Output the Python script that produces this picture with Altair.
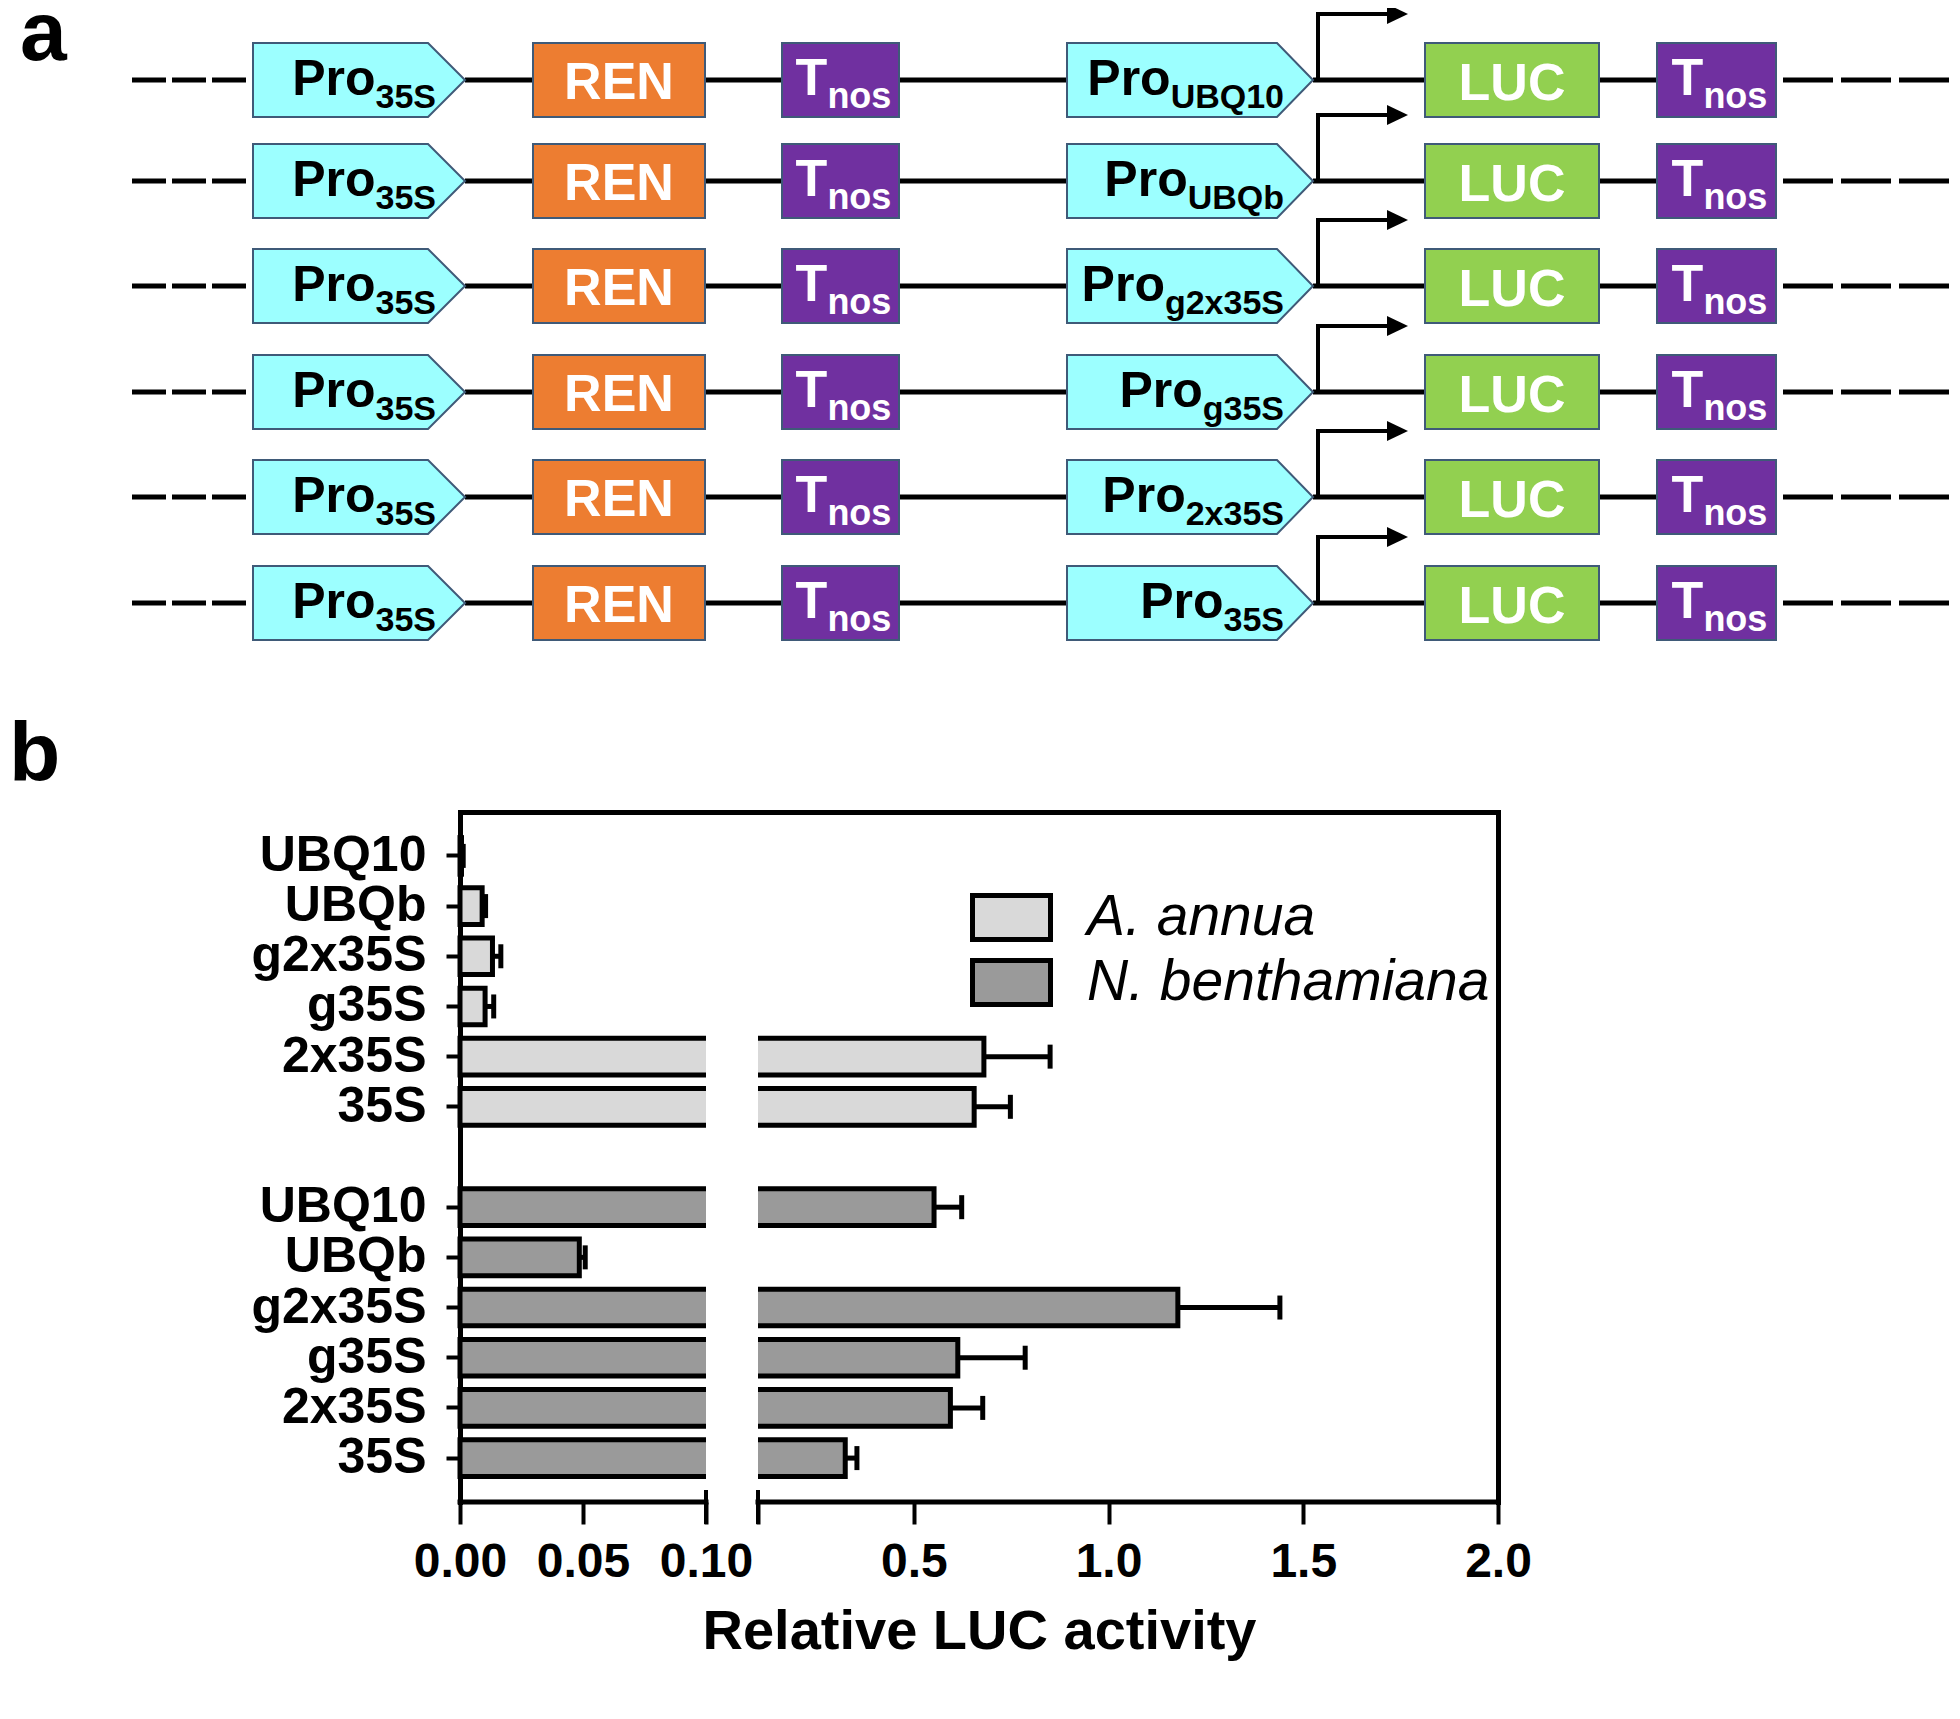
import altair as alt
import pandas as pd

# ---------------- panel b data ----------------
promoters = ["UBQ10", "UBQb", "g2x35S", "g35S", "2x35S", "35S"]
species = ["A. annua", "N. benthamiana"]
annua_mean = [0.0006, 0.0090, 0.0132, 0.0102, 0.680, 0.655]
annua_err = [0.0007, 0.0014, 0.0034, 0.0035, 0.170, 0.093]
benth_mean = [0.552, 0.0485, 1.178, 0.613, 0.594, 0.324]
benth_err = [0.071, 0.0024, 0.262, 0.173, 0.083, 0.030]
axis_break = 0.1
x_max = 2.0
low_ticks = [0.0, 0.05]
high_ticks = [0.5, 1.0, 1.5, 2.0]
x_title = "Relative LUC activity"

# panel a construct labels
construct_parts = ["REN", "LUC"]
terminator = ("T", "nos")

# ---------------- layout / style ----------------
FONT = "Liberation Sans"
W, H = 1038, 690
PAD = {"left": 452, "top": 804, "right": 454, "bottom": 209}
EPS = 1e-7
BREAK_LO = axis_break - EPS
LIGHT, DARK = "#d9d9d9", "#9a9a9a"
CYAN, ORANGE, PURPLE, GREEN = "#9cffff", "#ed7d31", "#7030a0", "#92d050"
EDGE = "#3f5a78"

# panel a: diagram units are the figure's pixels
xa = alt.Scale(domain=[0, 1960], range=[-460, 1500], nice=False, zero=False)
ya = alt.Scale(domain=[0, 1719], range=[-812, 907], nice=False, zero=False)
ROW_Y = [80, 181, 286, 392, 497, 603]
HALF = 37
PRO1 = (253, 428, 465)
PRO2 = (1067, 1277, 1313)
BOXES = [("REN", 533, 705, ORANGE), ("T1", 782, 899, PURPLE),
         ("LUC", 1425, 1599, GREEN), ("T2", 1657, 1776, PURPLE)]
SOLID = [(465, 533), (705, 782), (899, 1067), (1313, 1425), (1599, 1657)]
DASH_L = (132, 253)
DASH_R = (1783, 1956)
ARROW_X, ARROW_RISE, ARROW_END, ARROW_TIP = 1318, 66, 1392, 1408

WID = {'0': .556, '1': .556, '2': .556, '3': .556, '5': .556, 'S': .667, 'U': .722,
       'B': .722, 'Q': .778, 'b': .611, 'g': .611, 'x': .556, 'n': .611, 'o': .611,
       's': .556, 'T': .611, 'P': .667, 'r': .389}


def tw(s, size):
    return sum(WID.get(c, .6) for c in s) * size


def ax_enc(xf="x", yf="y"):
    return dict(x=alt.X(f"{xf}:Q", scale=xa, axis=None), y=alt.Y(f"{yf}:Q", scale=ya, axis=None))


a_layers = []

# backbone lines
solid = pd.DataFrame([dict(x0=a, x1=b, y=y) for y in ROW_Y for a, b in SOLID])
a_layers.append(alt.Chart(solid).mark_rule(color="black", strokeWidth=5).encode(
    x=alt.X("x0:Q", scale=xa, axis=None), x2="x1:Q", y=alt.Y("y:Q", scale=ya, axis=None)))
for (a, b), dash in [(DASH_L, [34, 6]), (DASH_R, [50, 8])]:
    d = pd.DataFrame([dict(x0=a, x1=b, y=y) for y in ROW_Y])
    a_layers.append(alt.Chart(d).mark_rule(color="black", strokeWidth=5, strokeDash=dash).encode(
        x=alt.X("x0:Q", scale=xa, axis=None), x2="x1:Q", y=alt.Y("y:Q", scale=ya, axis=None)))

# transcription-start arrows
vert = pd.DataFrame([dict(x=ARROW_X, y0=y, y1=y - ARROW_RISE) for y in ROW_Y])
a_layers.append(alt.Chart(vert).mark_rule(color="black", strokeWidth=4, strokeCap="square").encode(
    x=alt.X("x:Q", scale=xa, axis=None), y=alt.Y("y0:Q", scale=ya, axis=None), y2="y1:Q"))
hor = pd.DataFrame([dict(x0=ARROW_X, x1=ARROW_END, y=y - ARROW_RISE) for y in ROW_Y])
a_layers.append(alt.Chart(hor).mark_rule(color="black", strokeWidth=4, strokeCap="square").encode(
    x=alt.X("x0:Q", scale=xa, axis=None), x2="x1:Q", y=alt.Y("y:Q", scale=ya, axis=None)))
heads = pd.DataFrame([dict(x=ARROW_TIP - 10.5, y=y - ARROW_RISE) for y in ROW_Y])
a_layers.append(alt.Chart(heads).mark_point(shape="M-1,-0.95L1,0L-1,0.95Z", size=441, filled=True,
                                            color="black", opacity=1).encode(**ax_enc()))

# promoter pentagons
pts = []
for r, y in enumerate(ROW_Y):
    for k, (s, t0, t1) in enumerate([PRO1, PRO2]):
        g = f"{r}-{k}"
        pts += [dict(g=g, x=s, top=y - HALF, bot=y + HALF),
                dict(g=g, x=t0, top=y - HALF, bot=y + HALF),
                dict(g=g, x=t1, top=y, bot=y)]
a_layers.append(alt.Chart(pd.DataFrame(pts)).mark_area(fill=CYAN, stroke=EDGE, strokeWidth=2, opacity=1).encode(
    x=alt.X("x:Q", scale=xa, axis=None), y=alt.Y("top:Q", scale=ya, axis=None), y2="bot:Q", detail="g:N"))

# rectangular parts
for name, x0, x1, col in BOXES:
    d = pd.DataFrame([dict(x0=x0, x1=x1, y0=y - HALF, y1=y + HALF) for y in ROW_Y])
    a_layers.append(alt.Chart(d).mark_rect(fill=col, stroke=EDGE, strokeWidth=2).encode(
        x=alt.X("x0:Q", scale=xa, axis=None), x2="x1:Q", y=alt.Y("y0:Q", scale=ya, axis=None), y2="y1:Q"))


def txt(rows, size, color, align):
    return alt.Chart(pd.DataFrame(rows)).mark_text(
        font=FONT, fontSize=size, fontWeight="bold", color=color, align=align, baseline="alphabetic"
    ).encode(text="t:N", **ax_enc())


pro_main, pro_sub = [], []
for y, p in zip(ROW_Y, promoters):
    for sub, tip in [("35S", PRO1[2]), (p, PRO2[2])]:
        end = tip - 29
        pro_sub.append(dict(x=end, y=y + 28, t=sub))
        pro_main.append(dict(x=end - tw(sub, 34), y=y + 15, t="Pro"))
a_layers.append(txt(pro_main, 50, "black", "right"))
a_layers.append(txt(pro_sub, 34, "black", "right"))

big = []
for y in ROW_Y:
    big.append(dict(x=(533 + 705) / 2, y=y + 19, t=construct_parts[0]))
    big.append(dict(x=(1425 + 1599) / 2, y=y + 20, t=construct_parts[1]))
a_layers.append(txt(big, 52, "white", "center"))

t_main, t_sub = [], []
for y in ROW_Y:
    for x0, x1 in [(782, 899), (1657, 1776)]:
        tot = tw(terminator[0], 52) + tw(terminator[1], 36)
        left = (x0 + x1) / 2 - tot / 2 + 3
        t_main.append(dict(x=left, y=y + 15, t=terminator[0]))
        t_sub.append(dict(x=left + tw(terminator[0], 52), y=y + 28, t=terminator[1]))
a_layers.append(txt(t_main, 52, "white", "left"))
a_layers.append(txt(t_sub, 36, "white", "left"))

# panel letters
a_layers.append(txt([dict(x=20, y=60, t="a"), dict(x=9, y=781, t="b")], 84, "black", "left"))

panelA = alt.layer(*a_layers)

# ---------------- panel b ----------------
rows = []
for sp, means, errs in [(species[0], annua_mean, annua_err), (species[1], benth_mean, benth_err)]:
    for p, m, e in zip(promoters, means, errs):
        rows.append(dict(key=f"{sp}|{p}", species=sp, mean=m, hi=m + e, zero=0.0,
                         gap_lo=BREAK_LO, gap_hi=axis_break))
bdf = pd.DataFrame(rows)
keysA = [f"{species[0]}|{p}" for p in promoters]
keysN = [f"{species[1]}|{p}" for p in promoters]

xs = alt.Scale(domain=[0, axis_break, axis_break, x_max], range=[0, 246, 298, W], nice=False, zero=False)
ys = alt.Scale(domain=keysA + ["gap"] + keysN, paddingInner=0.27, paddingOuter=0.51)

x_vals = low_ticks + [BREAK_LO, axis_break] + high_ticks
bottom_axis = alt.Axis(
    orient="bottom", values=x_vals, domain=False, ticks=True, tickSize=22, tickWidth=4, tickColor="black",
    labelFont=FONT, labelFontSize=48, labelFontWeight="bold", labelColor="black", labelPadding=14,
    labelFlush=False, labelOverlap=False, grid=False,
    labelExpr=f"datum.value == {axis_break} ? '' : (datum.value < {axis_break} ? format(datum.value, '.2f') : format(datum.value, '.1f'))",
    title=x_title, titleFont=FONT, titleFontSize=56, titleFontWeight="bold", titleColor="black", titlePadding=18)
top_axis = alt.Axis(orient="top", domain=True, domainWidth=5, domainColor="black", domainCap="square",
                    ticks=False, labels=False, grid=False, title=None)
left_axis = alt.Axis(orient="left", values=keysA + keysN, domain=True, domainWidth=5, domainColor="black",
                     domainCap="square", ticks=True, tickSize=14, tickWidth=4, tickColor="black",
                     labelFont=FONT, labelFontSize=50, labelFontWeight="bold", labelColor="black",
                     labelPadding=20, labelExpr="split(datum.value, '|')[1]", title=None, grid=False)
right_axis = alt.Axis(orient="right", domain=True, domainWidth=5, domainColor="black", domainCap="square",
                      ticks=False, labels=False, grid=False, title=None)

legend = alt.Legend(orient="none", legendX=519, legendY=73, title=None, padding=0,
                    symbolType="M-1.3,-0.733H1.3V0.733H-1.3Z", symbolSize=3600, symbolStrokeColor="black",
                    symbolStrokeWidth=5, symbolOpacity=1, labelFont=FONT, labelFontSize=57,
                    labelFontStyle="italic", labelFontWeight="normal", labelColor="black",
                    labelOffset=43, rowPadding=0, labelLimit=0)

bars = alt.Chart(bdf).mark_bar(stroke="black", strokeWidth=5, opacity=1).encode(
    x=alt.X("mean:Q", scale=xs, axis=bottom_axis),
    x2="zero:Q",
    y=alt.Y("key:N", scale=ys, axis=left_axis),
    fill=alt.Fill("species:N", scale=alt.Scale(domain=species, range=[LIGHT, DARK]), legend=legend),
)
cover = alt.Chart(bdf).mark_bar(color="white", size=47, opacity=1).encode(
    x=alt.X("gap_lo:Q", scale=xs, axis=top_axis),
    x2="gap_hi:Q",
    y=alt.Y("key:N", scale=ys, axis=right_axis),
)
err = alt.Chart(bdf).mark_rule(color="black", strokeWidth=5).encode(
    x=alt.X("mean:Q", scale=xs, axis=None), x2="hi:Q", y=alt.Y("key:N", scale=ys, axis=None))
caps = alt.Chart(bdf).mark_tick(color="black", thickness=5, size=24, opacity=1).encode(
    x=alt.X("hi:Q", scale=xs, axis=None), y=alt.Y("key:N", scale=ys, axis=None))

seg = pd.DataFrame(dict(lo=[0.0, axis_break], hi=[BREAK_LO, x_max]))
axis_line = alt.Chart(seg).mark_rule(color="black", strokeWidth=5, strokeCap="square").encode(
    x=alt.X("lo:Q", scale=xs, axis=None), x2="hi:Q", y=alt.value(H))
brk = pd.DataFrame(dict(v=[BREAK_LO, axis_break]))
break_marks = alt.Chart(brk).mark_rule(color="black", strokeWidth=4).encode(
    x=alt.X("v:Q", scale=xs, axis=None), y=alt.value(H - 12), y2=alt.value(H + 22))

panelB = alt.layer(bars, cover, err, caps, axis_line, break_marks).resolve_axis(x="independent", y="independent")

chart = alt.layer(panelA, panelB).resolve_scale(x="independent", y="independent").properties(
    width=W, height=H, padding=PAD, autosize=alt.AutoSizeParams(type="none"), background="white"
).configure_view(stroke=None)

chart.save("out.html", embed_options={"renderer": "svg", "actions": False})
